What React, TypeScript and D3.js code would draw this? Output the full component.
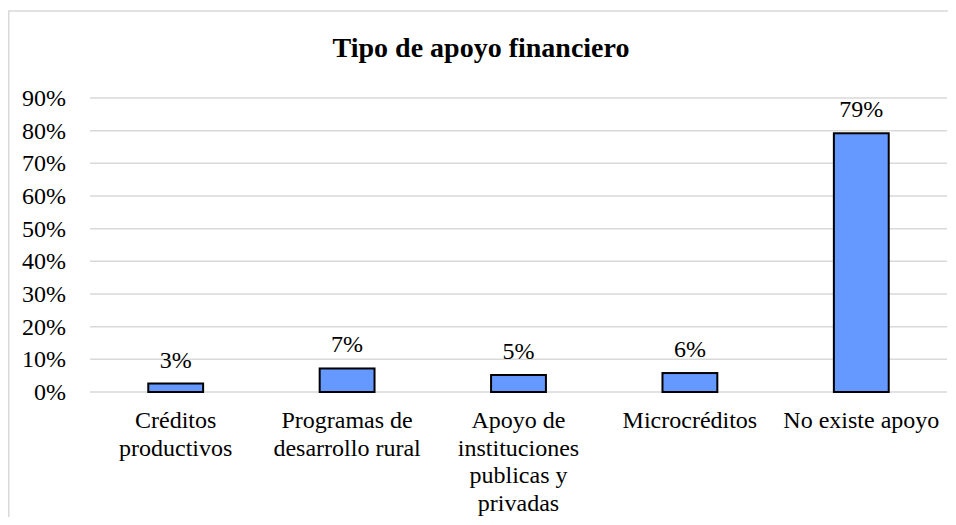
import React from "react";
import * as d3 from "d3";

// data
const categories = [
  "Créditos productivos",
  "Programas de desarrollo rural",
  "Apoyo de instituciones publicas y privadas",
  "Microcréditos",
  "No existe apoyo",
];
const categoryLines = [
  ["Créditos", "productivos"],
  ["Programas de", "desarrollo rural"],
  ["Apoyo de", "instituciones", "publicas y", "privadas"],
  ["Microcréditos"],
  ["No existe apoyo"],
];
const values = [2.6, 7.2, 5.2, 5.8, 79.2];
const valueLabels = ["3%", "7%", "5%", "6%", "79%"];
const yTicks = [0, 10, 20, 30, 40, 50, 60, 70, 80, 90];

const App = () => {
  const width = 948;
  const height = 509;
  const margin = { top: 90, right: 9, bottom: 125, left: 82 };
  const font = "Liberation Serif, Times New Roman, serif";

  const x = d3
    .scaleBand<string>()
    .domain(categories)
    .range([margin.left, width - margin.right]);

  const y = d3
    .scaleLinear()
    .domain([0, 90])
    .range([height - margin.bottom, margin.top]);

  const barW = x.bandwidth() * 0.32;

  return (
    <svg
      width={width}
      height={height}
      style={{ display: "block", overflow: "hidden", fontFamily: font }}
    >
      {/* chart frame, runs past the window on right and bottom */}
      <rect
        x={0.75}
        y={3}
        width={width + 40}
        height={height + 40}
        fill="#fff"
        stroke="#d9d9d9"
        strokeWidth={1.5}
      />

      <text
        x={473}
        y={49}
        textAnchor="middle"
        fontSize={28}
        fontWeight="bold"
        fill="#000"
      >
        Tipo de apoyo financiero
      </text>

      {/* gridlines + y ticks */}
      {yTicks.map((t) => (
        <g key={t}>
          <line
            x1={margin.left}
            x2={width - margin.right}
            y1={y(t)}
            y2={y(t)}
            stroke="#d9d9d9"
            strokeWidth={1.5}
          />
          <text
            x={58}
            y={y(t)}
            dy="0.34em"
            textAnchor="end"
            fontSize={24}
            fill="#000"
          >
            {t + "%"}
          </text>
        </g>
      ))}

      {/* bars */}
      {categories.map((c, i) => {
        const cx = (x(c) as number) + x.bandwidth() / 2;
        return (
          <g key={c}>
            <rect
              x={cx - barW / 2}
              y={y(values[i])}
              width={barW}
              height={y(0) - y(values[i])}
              fill="#6699ff"
              stroke="#000"
              strokeWidth={2}
            />
            <text
              x={cx}
              y={y(values[i]) - 16}
              textAnchor="middle"
              fontSize={24}
              fill="#000"
            >
              {valueLabels[i]}
            </text>
            <text x={cx} y={y(0) + 36} textAnchor="middle" fontSize={24} fill="#000">
              {categoryLines[i].map((l, j) => (
                <tspan key={j} x={cx} dy={j === 0 ? 0 : 27.6}>
                  {l}
                </tspan>
              ))}
            </text>
          </g>
        );
      })}
    </svg>
  );
};

export default App;
